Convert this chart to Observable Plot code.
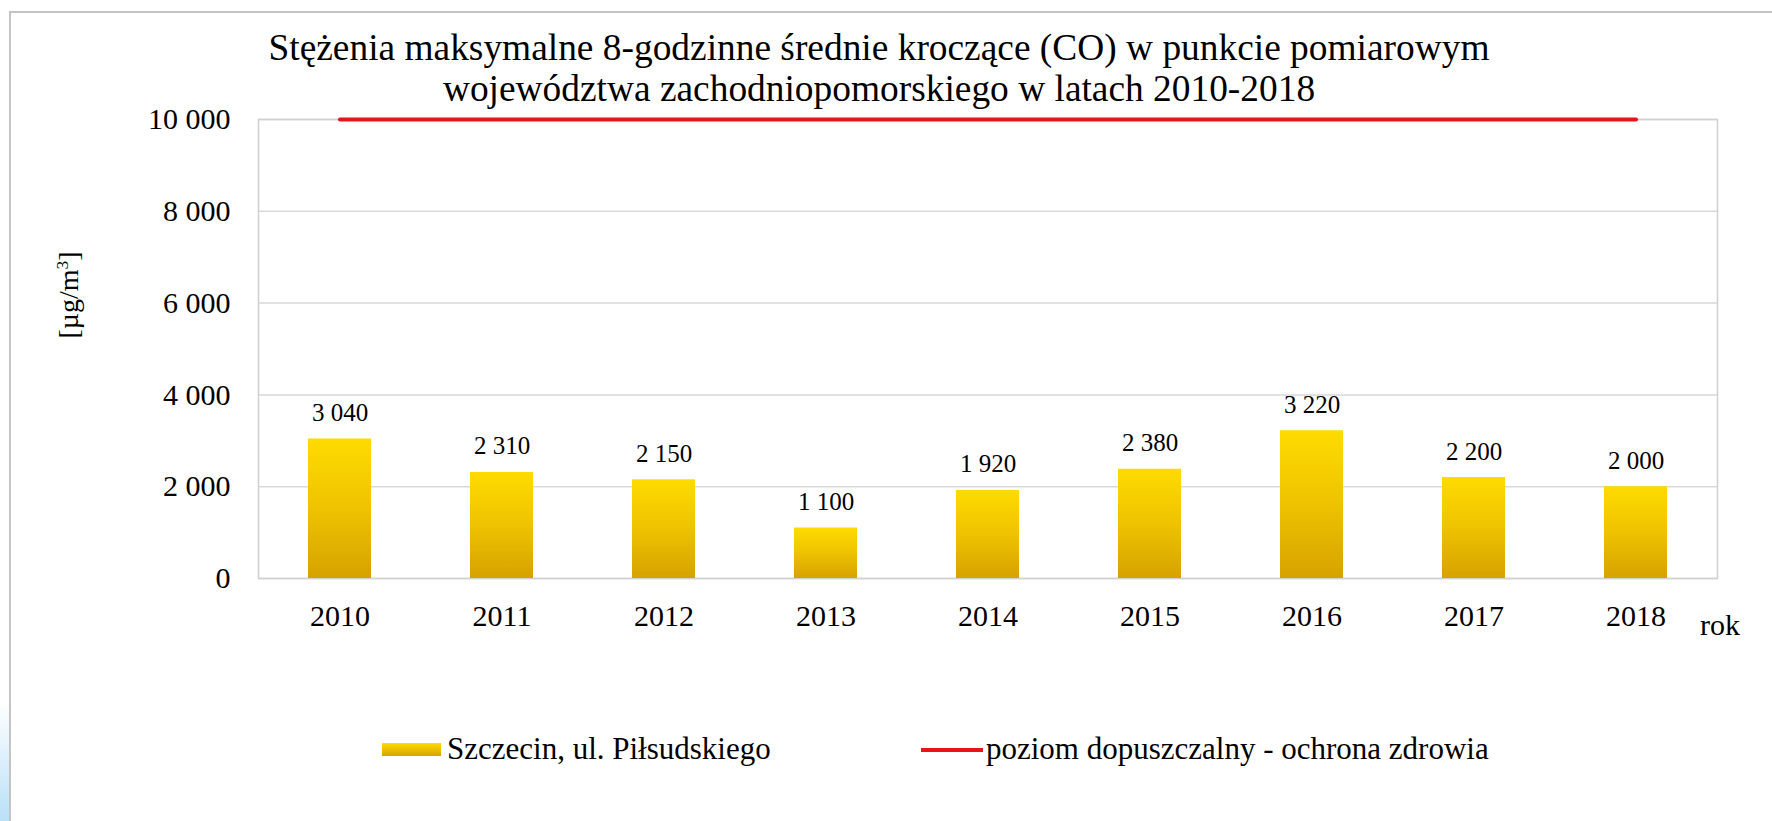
<!DOCTYPE html>
<html>
<head>
<meta charset="utf-8">
<script src="https://cdn.jsdelivr.net/npm/d3@7"></script>
<script src="https://cdn.jsdelivr.net/npm/@observablehq/plot@0.6"></script>
<style>
  html, body { margin: 0; padding: 0; background: #fff; }
  body { font-family: "Liberation Serif", "Times New Roman", Times, "DejaVu Serif Condensed", "DejaVu Serif", serif; color: #000; }
  #wrap { position: relative; width: 1772px; height: 821px; overflow: hidden; background: #fff; }
  #frame { position: absolute; left: 9px; top: 11px; width: 2000px; height: 1000px;
           border-top: 2px solid #c4c4c4; border-left: 2px solid #c4c4c4; }
  #glow { position: absolute; left: 0; top: 700px; width: 9px; height: 121px;
          background: linear-gradient(to bottom, rgba(190,226,248,0), #b9e0f8); }
  #title { position: absolute; left: 0; top: 27px; width: 1758px; text-align: center;
           font-size: 37.4px; line-height: 41px; white-space: nowrap; }
  #chart { position: absolute; left: 0; top: 104px; }
  #ylabel { position: absolute; left: 69px; top: 295px; font-size: 28px; line-height: 1;
            white-space: nowrap; transform: translate(-50%, -50%) rotate(-90deg); }
  #ylabel sup { font-size: 0.62em; vertical-align: 0.6em; line-height: 0; }
  #xlabel { position: absolute; left: 1700px; top: 610px; font-size: 30px; line-height: 30px; }
  .lg-text { position: absolute; top: 733px; font-size: 31px; line-height: 31px; white-space: nowrap; }
  #sw1 { position: absolute; left: 382px; top: 743px; width: 59px; height: 13px;
         background: linear-gradient(to bottom, #ffdb00, #d8a300); }
  #sw2 { position: absolute; left: 921px; top: 748px; width: 62px; height: 4px; background: #e8141c; }
</style>
</head>
<body>
<div id="wrap">
  <div id="frame"></div>
  <div id="glow"></div>
  <div id="title"></div>
  <div id="chart"></div>
  <div id="ylabel"></div>
  <div id="xlabel"></div>
  <div id="sw1"></div>
  <div class="lg-text" id="lt1" style="left:447px"></div>
  <div id="sw2"></div>
  <div class="lg-text" id="lt2" style="left:986px"></div>
</div>
<script>
// ---- data ----
const titleLines = [
  "Stężenia maksymalne 8-godzinne średnie kroczące (CO) w punkcie pomiarowym",
  "województwa zachodniopomorskiego w latach 2010-2018"
];
const years = ["2010", "2011", "2012", "2013", "2014", "2015", "2016", "2017", "2018"];
const values = [3040, 2310, 2150, 1100, 1920, 2380, 3220, 2200, 2000];
const limitValues = [10000, 10000, 10000, 10000, 10000, 10000, 10000, 10000, 10000];
const yTicks = [0, 2000, 4000, 6000, 8000, 10000];
const seriesName = "Szczecin, ul. Piłsudskiego";
const limitName = "poziom dopuszczalny - ochrona zdrowia";
const yUnit = "[µg/m";
const yUnitSup = "3";
const xName = "rok";

// ---- text ----
document.getElementById("title").innerHTML = titleLines.join("<br>");
document.getElementById("ylabel").innerHTML = yUnit + "<sup>" + yUnitSup + "</sup>]";
document.getElementById("xlabel").textContent = xName;
document.getElementById("lt1").textContent = seriesName;
document.getElementById("lt2").textContent = limitName;

// ---- chart ----
const serif = "'Liberation Serif', 'Times New Roman', Times, 'DejaVu Serif Condensed', 'DejaVu Serif', serif";
const fmt = d3.formatLocale({decimal: ",", thousands: "\u00a0", grouping: [3], currency: ["", ""]}).format(",d");
const data = years.map((y, i) => ({year: y, value: values[i], limit: limitValues[i]}));

const svg = Plot.plot({
  width: 1772,
  height: 580,
  marginTop: 15,
  marginBottom: 106,
  marginLeft: 258,
  marginRight: 55,
  style: {fontFamily: serif, fontSize: "30px", color: "#000", background: "transparent", overflow: "visible"},
  x: {domain: years, paddingInner: 0.61, paddingOuter: 0.305, label: null},
  y: {domain: [0, 10000], label: null},
  marks: [
    Plot.ruleY(yTicks, {stroke: "#d9d9d9", strokeWidth: 1.5}),
    Plot.frame({stroke: "#d0d0d0", strokeWidth: 1.5}),
    Plot.barY(data, {x: "year", y: "value", fill: "url(#goldGrad)", style: "filter: drop-shadow(1.5px 1px 1px rgba(0,0,0,0.18))"}),
    Plot.line(data, {x: "year", y: "limit", stroke: "#e8141c", strokeWidth: 4}),
    Plot.text(data, {x: "year", y: "value", text: d => fmt(d.value), dy: -26, fontSize: 25, fill: "#000"}),
    Plot.axisX({tickSize: 0, tickPadding: 26, fontSize: 30, label: null}),
    Plot.axisY({ticks: yTicks, tickSize: 0, tickPadding: 28, tickFormat: fmt, fontSize: 30, label: null})
  ]
});

const ns = "http://www.w3.org/2000/svg";
const defs = document.createElementNS(ns, "defs");
const grad = document.createElementNS(ns, "linearGradient");
grad.setAttribute("id", "goldGrad");
grad.setAttribute("x1", "0"); grad.setAttribute("y1", "0");
grad.setAttribute("x2", "0"); grad.setAttribute("y2", "1");
[["0%", "#ffdb00"], ["50%", "#eec300"], ["100%", "#d6a200"]].forEach(([o, c]) => {
  const s = document.createElementNS(ns, "stop");
  s.setAttribute("offset", o); s.setAttribute("stop-color", c);
  grad.appendChild(s);
});
defs.appendChild(grad);
svg.insertBefore(defs, svg.firstChild);
document.getElementById("chart").appendChild(svg);
</script>
</body>
</html>
